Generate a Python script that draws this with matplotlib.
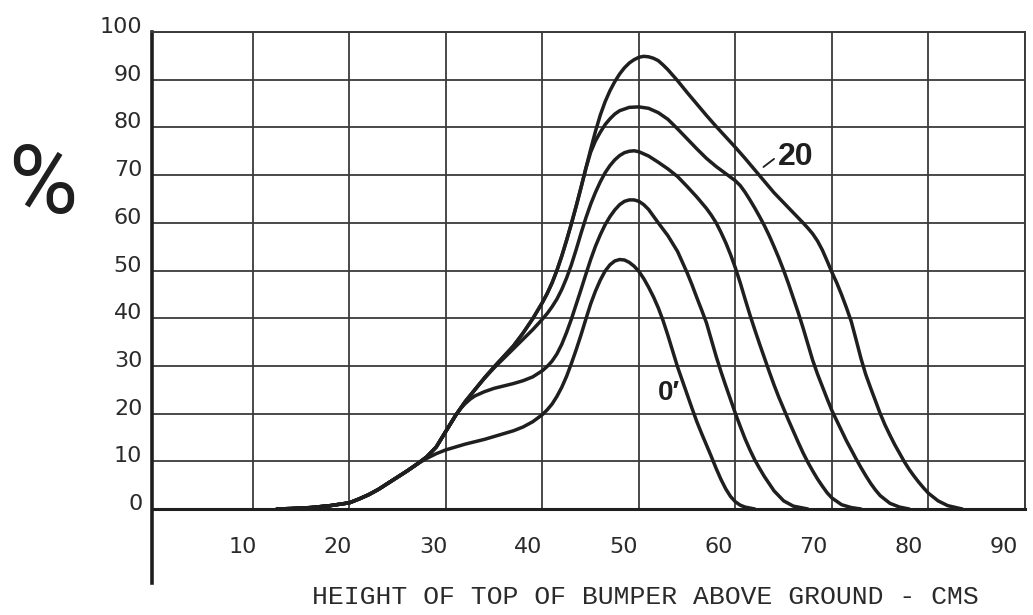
import matplotlib

matplotlib.use("Agg")
import matplotlib.pyplot as plt
from matplotlib.transforms import ScaledTranslation

# all five curves leave the ground together
x_start = [12.5, 14, 16, 18, 20, 21, 22, 23, 24, 25, 26, 27]
y_start = [0, 0.1, 0.3, 0.7, 1.3, 2.1, 3.0, 4.1, 5.4, 6.7, 8.0, 9.4]

# the four upper curves stay together a little longer
x_bunch = [28, 29, 30, 31]
y_bunch = [10.9, 13.0, 16.3, 19.6]

# lowest curve, labelled 0'
x_c1 = x_start + [28, 29, 30, 31, 32, 33, 34, 35, 36, 37, 38, 39, 40, 40.5,
                  41, 41.5, 42, 42.5, 43, 43.5, 44, 44.5, 45, 45.5, 46, 46.5,
                  47, 47.5, 48, 48.5, 49, 49.5, 50, 50.5, 51, 51.5, 52, 52.5,
                  53, 53.5, 54, 54.5, 55, 55.5, 56, 56.5, 57, 57.5, 58, 58.5,
                  59, 59.5, 60, 60.5, 61, 62]
y_c1 = y_start + [10.6, 11.6, 12.4, 13.0, 13.6, 14.1, 14.6, 15.2, 15.8, 16.4,
                  17.2, 18.3, 19.8, 20.8, 22.0, 23.6, 25.5, 27.8, 30.5, 33.4,
                  36.5, 39.8, 43.0, 45.7, 48.0, 49.9, 51.2, 52.0, 52.3, 52.2,
                  51.7, 50.9, 49.8, 48.3, 46.5, 44.5, 42.2, 39.5, 36.4, 33.1,
                  29.8, 26.9, 24.0, 21.1, 18.3, 15.8, 13.4, 11.0, 8.5, 6.2,
                  4.2, 2.6, 1.5, 0.8, 0.4, 0]

x_c2 = x_start + x_bunch + [31.5, 32, 32.5, 33, 34, 35, 36, 37, 38, 39, 40,
                            40.5, 41, 41.5, 42, 42.5, 43, 43.5, 44, 44.5, 45,
                            45.5, 46, 46.5, 47, 47.5, 48, 48.5, 49, 49.5, 50,
                            50.5, 51, 52, 53, 54, 55, 55.5, 56, 56.5, 57, 57.5,
                            58, 58.5, 59, 59.5, 60, 60.5, 61, 61.5, 62, 62.5,
                            63, 64, 65, 66, 67.5]
y_c2 = y_start + y_bunch + [21.0, 22.1, 23.0, 23.7, 24.6, 25.3, 25.8, 26.3,
                            26.9, 27.7, 29.0, 29.9, 31.0, 32.5, 34.5, 37.0,
                            39.8, 42.9, 46.0, 49.2, 52.3, 55.1, 57.5, 59.6,
                            61.3, 62.7, 63.8, 64.5, 64.8, 64.8, 64.5, 63.8,
                            62.8, 60.0, 57.3, 54.0, 49.5, 47.0, 44.3, 41.7,
                            39.0, 35.5, 32.0, 28.8, 25.8, 22.9, 20.0, 17.3,
                            14.7, 12.4, 10.3, 8.5, 6.8, 3.8, 1.7, 0.6, 0]

x_c3 = x_start + x_bunch + [32, 33, 34, 35, 36, 37, 38, 39, 40, 40.5, 41,
                            41.5, 42, 42.5, 43, 43.5, 44, 44.5, 45, 45.5, 46,
                            46.5, 47, 47.5, 48, 48.5, 49, 49.5, 50, 51, 52, 53,
                            54, 55, 56, 57, 57.5, 58, 58.5, 59, 59.5, 60, 60.5,
                            61, 61.5, 62, 62.5, 63, 63.5, 64, 64.5, 65, 65.5,
                            66, 66.5, 67, 67.5, 68, 68.5, 69, 69.5, 70, 71, 72,
                            73]
y_c3 = y_start + y_bunch + [22.5, 25.0, 27.4, 29.6, 31.6, 33.6, 35.6, 37.6,
                            39.8, 41.0, 42.4, 44.0, 46.0, 48.4, 51.2, 54.4,
                            57.8, 61.0, 63.9, 66.4, 68.6, 70.5, 72.0, 73.2,
                            74.1, 74.7, 75.0, 75.1, 74.9, 74.0, 72.7, 71.3,
                            69.7, 67.6, 65.4, 63.0, 61.6, 60.0, 58.0, 55.8,
                            53.3, 50.5, 47.4, 44.0, 40.7, 37.6, 34.6, 31.7,
                            28.8, 26.0, 23.4, 21.0, 18.6, 16.3, 14.0, 11.8, 9.8,
                            8.0, 6.3, 4.8, 3.4, 2.3, 0.9, 0.3, 0]

# the two top curves rise as one line until about 70 %
x_pair = [32, 33, 34, 35, 36, 37, 38, 39, 40, 40.5, 41, 41.5, 42, 42.5, 43,
          43.5, 44, 44.5]
y_pair = [22.5, 25.0, 27.5, 29.8, 32.0, 34.2, 36.9, 39.9, 43.3, 45.2, 47.4,
          50.0, 53.0, 56.3, 59.8, 63.5, 67.4, 71.4]

x_c4 = x_start + x_bunch + x_pair + [45, 45.5, 46, 46.5, 47, 47.5, 48, 49,
                                     50, 51, 52, 53, 54, 55, 56, 57, 58, 59,
                                     60, 60.5, 61, 61.5, 62, 62.5, 63, 63.5,
                                     64, 64.5, 65, 65.5, 66, 66.5, 67, 67.5,
                                     68, 68.5, 69, 69.5, 70, 70.5, 71, 71.5,
                                     72, 72.5, 73, 73.5, 74, 74.5, 75, 76, 77,
                                     78]
y_c4 = y_start + y_bunch + y_pair + [74.8, 77.2, 79.0, 80.6, 81.8, 82.8, 83.5,
                                     84.2, 84.3, 84.0, 83.1, 81.7, 79.7, 77.6,
                                     75.5, 73.5, 71.8, 70.3, 68.8, 67.8, 66.4,
                                     64.8, 63.1, 61.3, 59.4, 57.3, 55.0, 52.6,
                                     50.0, 47.2, 44.2, 41.2, 38.0, 34.6, 31.2,
                                     28.3, 25.7, 23.1, 20.6, 18.5, 16.4, 14.3,
                                     12.4, 10.5, 8.7, 7.0, 5.4, 4.0, 2.8, 1.2,
                                     0.4, 0]

# top curve, labelled 20
x_c5 = x_start + x_bunch + x_pair + [45, 45.5, 46, 46.5, 47, 47.5, 48, 48.5,
                                     49, 49.5, 50, 50.5, 51, 51.5, 52, 52.5,
                                     53, 54, 55, 56, 57, 58, 59, 60, 61, 62,
                                     63, 64, 65, 66, 67, 67.5, 68, 68.5, 69,
                                     69.5, 70, 70.5, 71, 71.5, 72, 72.5, 73,
                                     73.5, 74, 74.5, 75, 75.5, 76, 76.5, 77,
                                     77.5, 78, 78.5, 79, 79.5, 80, 81, 82,
                                     83.5]
y_c5 = y_start + y_bunch + y_pair + [75.4, 79.2, 82.6, 85.4, 87.7, 89.6, 91.2,
                                     92.5, 93.5, 94.2, 94.7, 94.9, 94.8, 94.5,
                                     94.0, 93.1, 92.1, 89.8, 87.3, 84.9, 82.5,
                                     80.2, 78.0, 75.8, 73.5, 71.1, 68.7, 66.3,
                                     64.2, 62.1, 60.0, 58.9, 57.7, 56.2, 54.3,
                                     52.0, 49.6, 47.4, 44.9, 42.2, 39.3, 35.5,
                                     31.6, 28.2, 25.4, 22.7, 20.0, 17.6, 15.5,
                                     13.5, 11.7, 9.9, 8.3, 6.9, 5.6, 4.4, 3.3,
                                     1.7, 0.7, 0]

x_ticks = [10, 20, 30, 40, 50, 60, 70, 80, 90]
y_ticks = [0, 10, 20, 30, 40, 50, 60, 70, 80, 90, 100]
x_title = "HEIGHT OF TOP OF BUMPER ABOVE GROUND - CMS"

INK = "#1f1f1f"
GRID = "#3a3a3a"


def main():
    fig = plt.figure(figsize=(10.33, 6.15), dpi=100)
    ax = fig.add_axes([152 / 1033, 1 - 509 / 615, 873 / 1033, 477 / 615])

    for xs, ys in [(x_c1, y_c1), (x_c2, y_c2), (x_c3, y_c3),
                   (x_c4, y_c4), (x_c5, y_c5)]:
        ax.plot(xs, ys, color=INK, lw=2.5, solid_joinstyle="round",
                solid_capstyle="round")

    ax.set_xlim(-0.45, 90)
    ax.set_ylim(0, 100)
    ax.set_xticks(x_ticks)
    ax.set_yticks(y_ticks)
    ax.set_axisbelow(True)
    ax.grid(True, color=GRID, lw=1.3)
    ax.tick_params(length=0, labelsize=16, labelcolor="#2a2a2a")
    ax.tick_params(axis="x", pad=20)
    ax.tick_params(axis="y", pad=7)

    for side in ["top", "right"]:
        ax.spines[side].set_linewidth(1.4)
        ax.spines[side].set_color(GRID)
    ax.spines["bottom"].set_linewidth(2.2)
    ax.spines["bottom"].set_color(INK)
    ax.spines["left"].set_linewidth(2.6)
    ax.spines["left"].set_color(INK)
    ax.spines["left"].set_bounds(-15.5, 100)

    # the hand-lettered labels sit a little off their grid lines
    for val, lab in zip(x_ticks, ax.get_xticklabels()):
        dx = (-10 - 1.4 * (val / 10 - 1)) / 100
        lab.set_transform(lab.get_transform()
                          + ScaledTranslation(dx, 0, fig.dpi_scale_trans))
    for lab in ax.get_yticklabels():
        lab.set_transform(lab.get_transform()
                          + ScaledTranslation(0, 7 / 100, fig.dpi_scale_trans))

    ax.text(66.2, 73.8, "20", fontsize=23, fontweight="bold", color=INK,
            family="Liberation Sans", ha="center", va="center")
    ax.annotate("", xy=(62.9, 71.7), xytext=(64.0, 73.4),
                arrowprops=dict(arrowstyle="-", lw=1.3, color=INK,
                                shrinkA=0, shrinkB=0))
    ax.text(52.0, 24.3, "0\u2032", fontsize=20, fontweight="bold", color=INK,
            family=["Liberation Sans", "DejaVu Sans"], ha="left", va="center")

    fig.text(43 / 1033, 1 - 187 / 615, "%", fontsize=68, color=INK,
             family="Roboto", ha="center", va="center")
    fig.text(645 / 1033, 1 - 597 / 615, x_title, fontsize=19, color="#2a2a2a",
             family="Liberation Mono", ha="center", va="center")

    fig.savefig("out.png", dpi=100, facecolor="white")


if __name__ == "__main__":
    main()
